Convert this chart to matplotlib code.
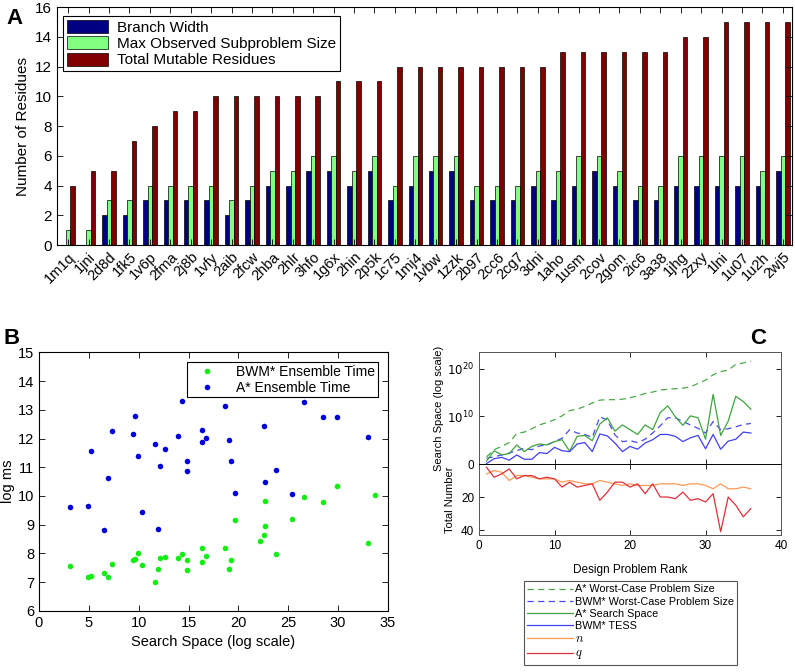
import numpy as np
import matplotlib
matplotlib.use('Agg')
import matplotlib.pyplot as plt

plt.rcParams['font.family'] = ['Liberation Sans', 'DejaVu Sans']
plt.rcParams['xtick.direction'] = 'in'
plt.rcParams['ytick.direction'] = 'in'
plt.rcParams['xtick.top'] = True
plt.rcParams['ytick.right'] = True
plt.rcParams['axes.linewidth'] = 0.8

# ---- panel A data ----
problems = ['1m1q', '1jni', '2d8d', '1fk5', '1v6p', '2fma', '2j8b', '1vfy', '2aib', '2fcw',
            '2hba', '2hlr', '3hfo', '1g6x', '2hin', '2p5k', '1c75', '1mj4', '1vbw', '1zzk',
            '2b97', '2cc6', '2cg7', '3dni', '1aho', '1usm', '2cov', '2gom', '2ic6', '3a38',
            '1jhg', '2zxy', '1lni', '1u07', '1u2h', '2wj5']
branch_width = [0, 0, 2, 2, 3, 3, 3, 3, 2, 3, 4, 4, 5, 5, 4, 5, 3, 4, 5, 5,
                3, 3, 3, 4, 3, 4, 5, 4, 3, 3, 4, 4, 4, 4, 4, 5]
max_subproblem = [1, 1, 3, 3, 4, 4, 4, 4, 3, 4, 5, 5, 6, 6, 5, 6, 4, 6, 6, 6,
                  4, 4, 4, 5, 5, 6, 6, 5, 4, 4, 6, 6, 6, 6, 5, 6]
total_mutable = [4, 5, 5, 7, 8, 9, 9, 10, 10, 10, 10, 10, 10, 11, 11, 11, 12, 12, 12, 12,
                 12, 12, 12, 12, 13, 13, 13, 13, 13, 13, 14, 14, 15, 15, 15, 15]

# ---- panel B data ----
bwm_x = [3.1, 4.9, 5.2, 6.5, 6.9, 7.3, 9.4, 9.6, 9.9, 10.3, 11.6, 11.9, 12.1, 12.6, 13.9, 14.3,
         14.8, 14.8, 16.4, 16.4, 16.8, 18.7, 19.1, 19.3, 19.7, 22.2, 22.6, 22.7, 22.7, 23.8,
         25.4, 26.6, 28.5, 29.9, 33.0, 33.7]
bwm_y = [7.56, 7.18, 7.20, 7.31, 7.18, 7.64, 7.79, 7.82, 8.00, 7.60, 7.00, 7.47, 7.84, 7.87,
         7.84, 7.99, 7.41, 7.77, 7.69, 8.20, 7.92, 8.20, 7.47, 7.79, 9.15, 8.42, 8.63, 8.94,
         9.84, 7.99, 9.19, 9.96, 9.79, 10.35, 8.36, 10.03]
astar_x = [3.1, 4.9, 5.2, 6.5, 6.9, 7.3, 9.4, 9.6, 9.9, 10.3, 11.6, 11.9, 12.1, 12.6, 13.9,
           14.3, 14.8, 14.8, 16.4, 16.4, 16.8, 18.7, 19.1, 19.3, 19.7, 22.6, 22.7, 23.8,
           25.4, 26.6, 28.5, 29.9, 33.0]
astar_y = [9.61, 9.65, 11.58, 8.80, 10.62, 12.25, 12.15, 12.80, 11.38, 9.44, 11.82, 8.86,
           11.04, 11.65, 12.10, 13.29, 11.22, 10.87, 12.31, 11.87, 12.03, 13.13, 11.94, 11.21,
           10.11, 12.43, 10.48, 10.92, 10.06, 13.27, 12.75, 12.74, 12.05]

# ---- panel C data (log10 of search space, and counts) ----
rank = np.arange(1, 37)
astar_worst = [1.5, 3.0, 3.7, 4.5, 6.4, 6.7, 7.4, 8.2, 8.7, 9.3, 10.1, 11.2, 11.5, 12.1, 12.8,
               13.4, 13.5, 13.5, 13.6, 13.9, 14.3, 14.8, 15.1, 15.5, 15.7, 15.8, 15.9, 16.2,
               16.9, 17.6, 18.7, 19.4, 19.7, 20.9, 21.2, 21.6]
bwm_worst = [1.2, 1.5, 1.9, 2.3, 2.8, 3.3, 3.0, 3.8, 4.0, 4.7, 5.4, 7.2, 6.5, 6.2, 5.6, 9.9,
             9.2, 6.1, 4.7, 4.9, 4.5, 5.2, 6.5, 8.0, 9.7, 9.7, 8.9, 8.2, 7.5, 6.5, 8.9, 7.2,
             7.4, 7.8, 8.3, 8.5]
astar_space = [0.6, 2.8, 1.9, 2.2, 4.0, 2.6, 3.7, 4.2, 4.0, 4.7, 5.1, 2.7, 5.8, 6.0, 4.9, 8.4,
               9.7, 6.9, 8.2, 7.2, 6.2, 8.2, 7.2, 10.8, 12.2, 9.9, 8.1, 10.1, 9.7, 5.2, 14.6,
               6.0, 9.0, 14.2, 13.1, 11.5]
bwm_tess = [0.1, 1.1, 1.4, 0.8, 1.9, 1.0, 1.0, 2.4, 2.2, 3.5, 2.8, 2.6, 4.2, 4.5, 2.6, 6.3,
            5.9, 4.4, 2.6, 3.7, 3.1, 4.4, 5.1, 6.2, 6.2, 5.8, 4.7, 5.5, 6.0, 3.2, 6.2, 3.1,
            4.8, 5.2, 6.7, 6.5]
n_count = [6, 4, 5, 10, 7, 7, 8, 9, 9, 9, 11, 10, 11, 12, 12, 10, 11, 12, 13, 12, 13, 13, 13,
           12, 12, 12, 13, 12, 12, 13, 15, 12, 15, 15, 14, 15]
q_count = [2, 8, 6, 3, 9, 7, 7, 9, 8, 9, 14, 11, 14, 13, 12, 22, 17, 11, 11, 14, 12, 18, 12,
           20, 20, 21, 17, 22, 21, 23, 18, 41, 20, 25, 32, 27]

fig = plt.figure(figsize=(7.95, 6.72), dpi=100)

# ===== A =====
axA = fig.add_axes([0.0717, 0.6354, 0.9245, 0.354])
xs = np.arange(1, len(problems) + 1)
w = 0.22
axA.bar(xs - w, branch_width, w, color='#000080', edgecolor='black', linewidth=0.5, label='Branch Width')
axA.bar(xs, max_subproblem, w, color='#80ff80', edgecolor='black', linewidth=0.5, label='Max Observed Subproblem Size')
axA.bar(xs + w, total_mutable, w, color='#800000', edgecolor='black', linewidth=0.5, label='Total Mutable Residues')
axA.set_xlim(0.45, 36.45)
axA.set_ylim(0, 16)
axA.set_yticks(range(0, 17, 2))
axA.set_xticks(xs)
axA.set_xticklabels(problems, rotation=45, ha='right', rotation_mode='anchor', fontsize=10.5)
axA.tick_params(axis='y', labelsize=11)
axA.tick_params(length=4, width=0.6)
axA.set_ylabel('Number of Residues', fontsize=11)
legA = axA.legend(loc='upper left', bbox_to_anchor=(0.004, 0.975), fontsize=11, fancybox=False,
                  edgecolor='black', framealpha=1, handlelength=2.7, handleheight=0.9,
                  labelspacing=0.12, borderpad=0.25, borderaxespad=0.2, handletextpad=0.6)
legA.get_frame().set_linewidth(0.8)

# ===== B =====
axB = fig.add_axes([0.049, 0.0908, 0.439, 0.385])
axB.plot(bwm_x, bwm_y, 'o', color='#11ee11', markersize=4, markeredgewidth=0, label='BWM* Ensemble Time')
axB.plot(astar_x, astar_y, 'o', color='#0000dd', markersize=4, markeredgewidth=0, label='A* Ensemble Time')
axB.set_xlim(0, 35)
axB.set_ylim(6, 15)
axB.set_xticks(range(0, 36, 5))
axB.set_yticks(range(6, 16))
axB.tick_params(labelsize=10.5, length=4, width=0.6)
axB.set_xlabel('Search Space (log scale)', fontsize=10.5)
axB.set_ylabel('log ms', fontsize=10.5, labelpad=2)
legB = axB.legend(loc='upper right', bbox_to_anchor=(0.99, 0.99), fontsize=10, fancybox=False,
                  edgecolor='black', framealpha=1, handlelength=2.4, handletextpad=0.9,
                  labelspacing=0.15, borderpad=0.2)
legB.get_frame().set_linewidth(0.8)

# ===== C =====
axC1 = fig.add_axes([0.6025, 0.3095, 0.38, 0.1667])
axC2 = fig.add_axes([0.6025, 0.2039, 0.38, 0.1056], sharex=axC1)
dash = (0, (5, 3.5))
l1, = axC1.plot(rank, astar_worst, color='#4aa84a', lw=0.9, linestyle=dash, label='A* Worst-Case Problem Size')
l2, = axC1.plot(rank, bwm_worst, color='#4a4af0', lw=0.9, linestyle=dash, label='BWM* Worst-Case Problem Size')
l3, = axC1.plot(rank, astar_space, color='#3fa43f', lw=0.9, label='A* Search Space')
l4, = axC1.plot(rank, bwm_tess, color='#4040f0', lw=0.9, label='BWM* TESS')
l5, = axC2.plot(rank, n_count, color='#ff9a55', lw=0.9, label='$n$')
l6, = axC2.plot(rank, q_count, color='#e0303a', lw=0.9, label='$q$')
axC1.set_xlim(0, 40)
axC1.set_ylim(0, 23.5)
axC1.set_yticks([0, 10, 20])
axC1.set_yticklabels(['0', '$10^{10}$', '$10^{20}$'])
axC1.tick_params(labelbottom=False, labelsize=8.5, length=3.5, width=0.6)
axC2.set_ylim(43, 0)
axC2.set_yticks([20, 40])
axC2.set_xticks(range(0, 41, 10))
axC2.tick_params(labelsize=8.5, length=3.5, width=0.6)
axC2.set_xlabel('Design Problem Rank', fontsize=8.5, labelpad=9)
axC1.set_ylabel('Search Space (log scale)', fontsize=8, labelpad=2)
axC2.set_ylabel('Total Number', fontsize=8, labelpad=4)
for ax in (axC1, axC2):
    for s in ax.spines.values():
        s.set_color('#555555')
        s.set_linewidth(0.7)
axC1.spines['bottom'].set_color('black')
axC2.spines['top'].set_color('black')

legC = fig.legend(handles=[l1, l2, l3, l4, l5, l6], loc='lower left', bbox_to_anchor=(0.652, 0.003),
                  fontsize=7.8, fancybox=False, edgecolor='#555555', framealpha=1, handlelength=4.2,
                  handletextpad=0.2, labelspacing=0.2, borderpad=0.3)
legC.get_frame().set_linewidth(0.8)
for t in legC.get_texts()[4:]:
    t.set_math_fontfamily('cm')
    t.set_fontsize(9)

# panel letters
fig.text(0.008, 0.988, 'A', fontsize=16, fontweight='bold', va='top')
fig.text(0.004, 0.512, 'B', fontsize=16, fontweight='bold', va='top')
fig.text(0.944, 0.512, 'C', fontsize=16, fontweight='bold', va='top')

fig.savefig('out.png', dpi=100)
